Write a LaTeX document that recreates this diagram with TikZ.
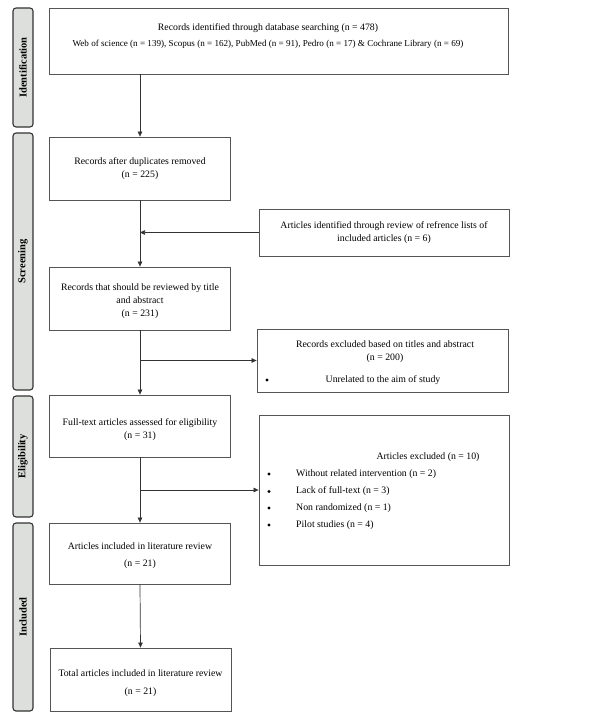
\documentclass[tikz,border=0pt]{standalone}
\usepackage{fontspec}
\setmainfont{Liberation Serif}
\usetikzlibrary{arrows.meta}
\definecolor{sidefill}{HTML}{DCDFDC}
\definecolor{linec}{HTML}{333333}
\definecolor{boxc}{HTML}{555555}
\begin{document}
\begin{tikzpicture}[x=1pt,y=-1pt,
  box/.style={draw=boxc,line width=0.8pt,minimum width=#1,inner sep=0pt,align=center,
    font=\fontsize{9.8}{13}\selectfont},
  box/.default=181pt,
  side/.style={draw=linec,fill=sidefill,line width=1.1pt,rounded corners=3pt,minimum width=20pt,
    inner sep=0pt},
  sidetxt/.style={rotate=90,inner sep=0pt,font=\bfseries\fontsize{10.5}{12}\selectfont},
  txt/.style={inner sep=0pt,font=\fontsize{9.8}{13}\selectfont,align=center},
  bul/.style={circle,fill=black,inner sep=0pt,minimum size=3.4pt},
  arr/.style={draw=linec,line width=0.7pt,-{Triangle[length=5pt,width=4.5pt]}},
  ln/.style={draw=linec,line width=0.7pt}]
\useasboundingbox (0,0) rectangle (600,723);
% side labels
\node[side,minimum height=119pt] (sid) at (23,67.5) {};
\node[sidetxt] (sidt) at (sid.center) {Identification};
\node[side,minimum height=257pt] (sscr) at (23,261.5) {};
\node[sidetxt] (sscrt) at (sscr.center) {Screening};
\node[side,minimum height=121pt] (selig) at (23,456.5) {};
\node[sidetxt] (seligt) at (selig.center) {Eligibility};
\node[side,minimum height=188pt] (sinc) at (23,617) {};
\node[sidetxt] (sinct) at (sinc.center) {Included};
% top box
\node[box=459pt,minimum height=66pt] (top) at (278.5,41) {};
\node[txt] (topt) at (268,28) {Records identified through database searching (n = 478)};
\node[txt,font=\fontsize{9.1}{13}\selectfont] (topt2) at (268,44) {Web of science (n = 139), Scopus (n = 162), PubMed (n = 91), Pedro (n = 17) \& Cochrane Library (n = 69)};
% left column
\node[box,minimum height=63pt] (dup) at (140,168.5) {Records after duplicates removed\\(n = 225)};
\node[box,minimum height=63pt] (rev) at (140,298.5) {};
\node[txt] (revt) at (140,301) {Records that should be reviewed by title\\and abstract\\(n = 231)};
\node[box,minimum height=62pt] (full) at (140,426) {};
\node[txt] (fullt) at (140,429.5) {Full-text articles assessed for eligibility\\(n = 31)};
\node[box,minimum height=61pt] (inc) at (140,553.5) {};
\node[txt,font=\fontsize{9.8}{17}\selectfont] (inct) at (140,555.5) {Articles included in literature review\\(n = 21)};
\node[box,minimum height=63pt] (tot) at (140.5,679.5) {};
\node[txt,font=\fontsize{9.8}{18}\selectfont] (tott) at (140.5,683) {Total articles included in literature review\\(n = 21)};
% right column
\node[box=250pt,minimum height=47pt] (ref) at (384,232.5) {Articles identified through review of refrence lists of\\included articles (n = 6)};
\node[box=251pt,minimum height=63pt] (ex1) at (382.5,360.5) {};
\node[txt] (ex1t) at (385,351.5) {Records excluded based on titles and abstract\\(n = 200)};
\node[bul] (ex1b) at (267,380) {};
\node[txt] (ex1l) at (383,380) {Unrelated to the aim of study};
\node[box=250pt,minimum height=150pt] (ex2) at (384,490) {};
\node[txt] (ex2h) at (428,457) {Articles excluded (n = 10)};
\node[bul] (b1) at (269,474) {};
\node[txt,anchor=west] (l1) at (296,474) {Without related intervention (n = 2)};
\node[bul] (b2) at (269,491.5) {};
\node[txt,anchor=west] (l2) at (296,491.5) {Lack of full-text (n = 3)};
\node[bul] (b3) at (269,508) {};
\node[txt,anchor=west] (l3) at (296,508) {Non randomized (n = 1)};
\node[bul] (b4) at (269,525) {};
\node[txt,anchor=west] (l4) at (296,525) {Pilot studies (n = 4)};
% connectors
\draw[arr] (dup.north |- top.south) -- (dup.north);
\draw[arr] (dup.south) -- (rev.north);
\draw[arr] (ref.west) -- (ref.west -| dup.south);
\draw[arr] (rev.south) -- (full.north);
\draw[arr] (ex1.west -| rev.south) -- (ex1.west);
\draw[arr] (full.south) -- (inc.north);
\draw[arr] (ex2.west -| full.south) -- (ex2.west);
\draw[arr] (inc.south) -- (tot.north);
\end{tikzpicture}
\end{document}
